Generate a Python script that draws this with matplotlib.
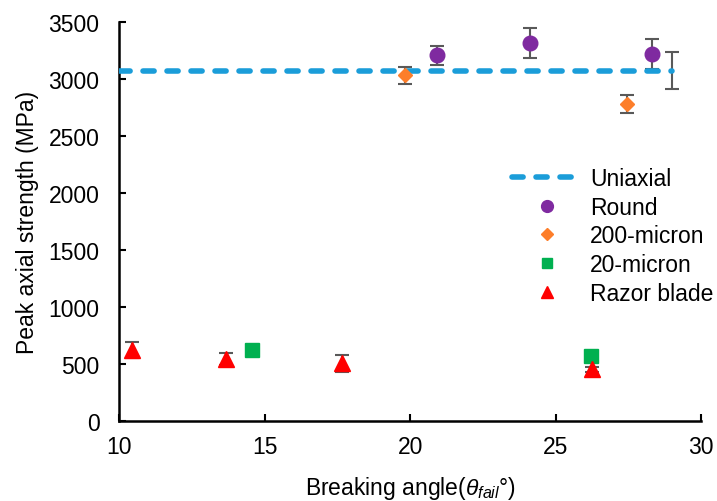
import matplotlib
matplotlib.use("Agg")
import matplotlib.pyplot as plt
from matplotlib.lines import Line2D

plt.rcParams['font.family'] = ['Liberation Sans', 'DejaVu Sans']
plt.rcParams['mathtext.fontset'] = 'custom'
plt.rcParams['mathtext.rm'] = 'Liberation Sans'
plt.rcParams['mathtext.it'] = 'Liberation Sans:italic'

# Data
uni_x = [10, 29.0]
uni_y = [3075, 3075]
uni_err = [0, 160]

round_x = [20.91, 24.11, 28.31]
round_y = [3211, 3316, 3222]
round_err = [85, 130, 130]

m200_x = [19.82, 27.46]
m200_y = [3035, 2783]
m200_err = [73, 80]

m20_x = [14.57, 26.20]
m20_y = [623, 571]

razor_x = [10.44, 13.66, 17.67, 26.25]
razor_y = [625, 542, 505, 450]
razor_err = [70, 52, 75, 25]

xticks = [10, 15, 20, 25, 30]
yticks = [0, 500, 1000, 1500, 2000, 2500, 3000, 3500]

FS = 16.5
BLUE = '#1B9DD9'

fig = plt.figure(figsize=(7.17, 5.02), dpi=100)
ax = fig.add_axes([0.166, 0.16, 0.812, 0.7936])

ecol = '#595959'
ekw = dict(ecolor=ecol, elinewidth=1.5, capsize=5, capthick=1.5, linestyle='none')

ax.errorbar(uni_x, uni_y, yerr=uni_err, **ekw, zorder=2)
ax.plot(uni_x, uni_y, color=BLUE, lw=4, dashes=(2.0, 2.32),
        dash_capstyle='round', zorder=3, label='Uniaxial')

ax.errorbar(round_x, round_y, yerr=round_err, **ekw, zorder=2)
ax.plot(round_x, round_y, 'o', color='#7F2AA0', ms=10.5, ls='none', zorder=4, label='Round')

ax.errorbar(m200_x, m200_y, yerr=m200_err, **ekw, zorder=2)
ax.plot(m200_x, m200_y, 'D', color='#FD7E2A', ms=7.5, ls='none', zorder=4, label='200-micron')

ax.plot(m20_x, m20_y, 's', color='#00B050', ms=10, ls='none', zorder=4, label='20-micron')

ax.errorbar(razor_x, razor_y, yerr=razor_err, **ekw, zorder=2)
ax.plot(razor_x, razor_y, '^', color='#FF0000', ms=11, ls='none', zorder=4, label='Razor blade')

ax.set_xlim(10, 30)
ax.set_ylim(0, 3500)
ax.set_xticks(xticks)
ax.set_yticks(yticks)
ax.tick_params(direction='in', length=5, width=1.5, labelsize=FS)
ax.tick_params(axis='x', pad=10)
ax.tick_params(axis='y', pad=14)
for s in ['top', 'right']:
    ax.spines[s].set_visible(False)
for s in ['left', 'bottom']:
    ax.spines[s].set_linewidth(1.8)

ax.set_xlabel('Breaking angle(' + r'$\theta_{fail}$' + '°)', fontsize=FS, labelpad=12)
ax.set_ylabel('Peak axial strength (MPa)', fontsize=FS, labelpad=7)

handles = [
    Line2D([], [], color=BLUE, lw=4, dashes=(2.0, 2.32), dash_capstyle='round'),
    Line2D([], [], marker='o', color='#7F2AA0', ms=8.5, ls='none'),
    Line2D([], [], marker='D', color='#FD7E2A', ms=6, ls='none'),
    Line2D([], [], marker='s', color='#00B050', ms=7.5, ls='none'),
    Line2D([], [], marker='^', color='#FF0000', ms=8, ls='none'),
]
labels = ['Uniaxial', 'Round', '200-micron', '20-micron', 'Razor blade']
ax.legend(handles, labels, loc='upper left', bbox_to_anchor=(0.66, 0.66),
          frameon=False, fontsize=FS, handlelength=3.0, handletextpad=0.4,
          labelspacing=0.25, borderaxespad=0)

fig.savefig('out.png', dpi=100)
